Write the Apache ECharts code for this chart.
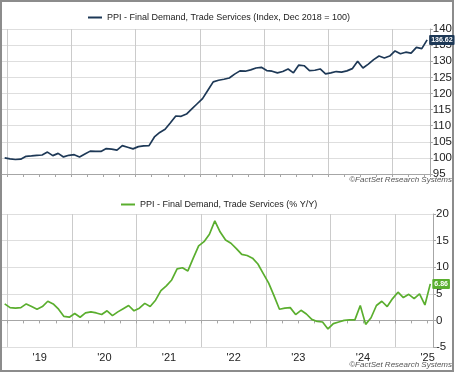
<!DOCTYPE html>
<html><head><meta charset="utf-8">
<script src="https://cdn.jsdelivr.net/npm/echarts@6/dist/echarts.min.js"></script>
<style>html,body{margin:0;padding:0;background:#fff}#c{width:455px;height:373px}</style>
</head><body><div id="c"></div>
<script>
// Months Dec 2018 .. Jul 2025
var months = [];
(function(){ var y=2018, m=12; for (var i=0;i<80;i++){ months.push(y+'-'+(m<10?'0'+m:m)); m++; if(m>12){m=1;y++;} } })();

var indexValues = [
 100.0, 99.7, 99.5, 99.6, 100.5, 100.6, 100.8, 100.9, 101.8, 100.7, 101.4, 100.3,
 100.8, 101.0, 100.3, 101.2, 102.1, 102.0, 102.0, 102.9, 102.7, 102.4, 103.8, 103.3,
 102.8, 103.5, 103.7, 103.8, 106.5, 107.9, 108.9, 110.9, 113.0, 112.9, 113.6, 115.2,
 116.8, 118.4, 121.0, 123.6, 124.1, 124.4, 124.8, 126.0, 127.0, 126.9, 127.3, 127.9,
 128.1, 127.1, 126.9, 126.4, 126.8, 127.6, 126.4, 128.8, 128.6, 127.1, 127.2, 127.6,
 126.1, 126.4, 126.8, 126.6, 127.0, 127.7, 130.0, 127.9, 129.1, 130.5, 131.6, 131.0,
 131.6, 133.2, 132.3, 132.8, 132.5, 134.3, 133.9, 136.62
];
var yoyValues = [
 3.1, 2.4, 2.3, 2.4, 3.1, 2.6, 2.1, 2.6, 3.6, 3.1, 2.1, 0.75,
 0.6, 1.3, 0.6, 1.4, 1.6, 1.4, 1.1, 1.8, 0.9, 1.6, 2.2, 2.8,
 1.8, 2.3, 3.2, 2.6, 3.8, 5.6, 6.5, 7.6, 9.7, 9.9, 9.3, 11.7,
 14.0, 14.8, 16.2, 18.7, 16.6, 15.1, 14.5, 13.5, 12.4, 12.2, 11.7, 10.6,
 8.8, 7.0, 4.6, 2.1, 2.3, 2.4, 1.1, 1.9, 1.2, 0.2, -0.2, -0.3,
 -1.6, -0.6, -0.3, 0.0, 0.1, 0.1, 2.8, -0.75, 0.5, 2.8, 3.6, 2.6,
 4.1, 5.3, 4.3, 4.9, 4.1, 5.0, 2.9, 6.86
];
var indexTicks = [95, 140, 5];
var yoyTicks = [-5, 20, 5];
var name1 = 'PPI - Final Demand, Trade Services (Index, Dec 2018 = 100)';
var name2 = 'PPI - Final Demand, Trade Services (% Y/Y)';

var navy = '#1d3856', green = '#5aae2e';
var font = 'Arial, "Liberation Sans", sans-serif';

function xAxis(gridIndex, showLabels) {
  return {
    type: 'category', gridIndex: gridIndex, data: months, boundaryGap: true,
    axisLine: { show: true, lineStyle: { color: '#a6a6a6', width: 1 } },
    axisTick: { show: true, length: 3, lineStyle: { color: '#a6a6a6' },
      interval: function (i, v) { var mm = v.slice(5); return mm==='01'||mm==='04'||mm==='07'||mm==='10'; } },
    splitLine: { show: true, lineStyle: { color: '#cbcbcb', width: 1 },
      interval: function (i, v) { return v.slice(5) === '01'; } },
    axisLabel: { show: showLabels, color: '#222', fontSize: 11, fontFamily: font, margin: 5,
      padding: [0, 5.4, 0, 0],
      interval: function (i, v) { return v.slice(5) === '07'; },
      formatter: function (v) { return "'" + v.slice(2, 4); } }
  };
}
function yAxis(gridIndex, t) {
  return {
    type: 'value', gridIndex: gridIndex, position: 'right', min: t[0], max: t[1], interval: t[2],
    axisLine: { show: true, lineStyle: { color: '#a6a6a6' } },
    axisTick: { show: true, length: 3, lineStyle: { color: '#a6a6a6' } },
    splitLine: { show: true, lineStyle: { color: '#dedede' } },
    axisLabel: { color: '#222', fontSize: 11.5, fontFamily: font, margin: 3 }
  };
}
function endLabel(color) {
  return { show: true, distance: 2, color: '#fff', backgroundColor: color, fontSize: 7,
    fontWeight: 'bold', fontFamily: font, padding: [2, 2, 1, 2], borderRadius: 1,
    formatter: function (p) { return p.value.toFixed(2); } };
}

var chart = echarts.init(document.getElementById('c'), null, { renderer: 'canvas' });
chart.setOption({
  animation: false,
  backgroundColor: '#fff',
  textStyle: { fontFamily: font },
  grid: [
    { left: 2, right: 22, top: 29, height: 145, containLabel: false },
    { left: 2, right: 22, top: 214, height: 133, containLabel: false }
  ],
  legend: [
    { data: [{ name: name1, icon: 'rect' }], left: 88, top: 13, padding: 0, itemWidth: 14, itemHeight: 2,
      textStyle: { fontSize: 9, color: '#222', fontFamily: font }, selectedMode: false },
    { data: [{ name: name2, icon: 'rect' }], left: 121, top: 200, padding: 0, itemWidth: 14, itemHeight: 2,
      textStyle: { fontSize: 9, color: '#222', fontFamily: font }, selectedMode: false }
  ],
  xAxis: [xAxis(0, false), xAxis(1, true)],
  yAxis: [yAxis(0, indexTicks), yAxis(1, yoyTicks)],
  series: [
    { name: name1, type: 'line', xAxisIndex: 0, yAxisIndex: 0, data: indexValues,
      showSymbol: false, symbol: 'none', color: navy, lineStyle: { color: navy, width: 1.7 },
      endLabel: endLabel(navy), clip: false },
    { name: name2, type: 'line', xAxisIndex: 1, yAxisIndex: 1, data: yoyValues,
      showSymbol: false, symbol: 'none', color: green, lineStyle: { color: green, width: 1.7 },
      endLabel: endLabel(green), clip: false }
  ],
  graphic: [
    { type: 'text', right: 3, top: 176, style: { text: '\u00A9FactSet Research Systems', fontSize: 8,
      fontStyle: 'italic', fill: '#555', fontFamily: font } },
    { type: 'text', right: 3, top: 361, style: { text: '\u00A9FactSet Research Systems', fontSize: 8,
      fontStyle: 'italic', fill: '#555', fontFamily: font } },
    { type: 'rect', shape: { x: 1, y: 1, width: 452, height: 370 }, style: { fill: 'none', stroke: '#8c8c8c', lineWidth: 2 }, silent: true }
  ]
});
</script></body></html>
